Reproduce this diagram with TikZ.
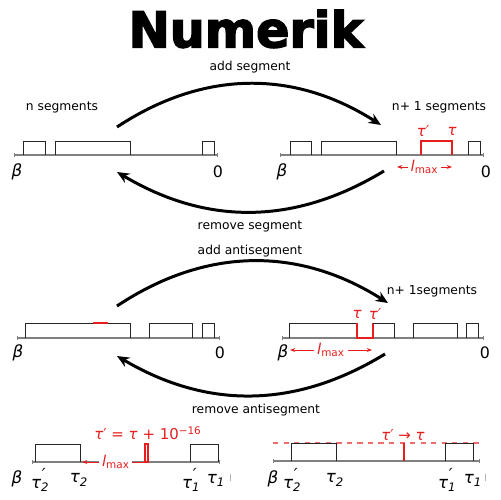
\documentclass[tikz,border=0pt]{standalone}
\usepackage{fontspec}
\setmainfont{DejaVu Sans}
\newfontfamily\titlefont[FakeBold=3]{DejaVu Sans Bold}
\usetikzlibrary{arrows.meta}
\definecolor{lred}{RGB}{232,30,30}

\begin{document}
\begin{tikzpicture}[x=0.02cm,y=-0.02cm,
  txt/.style={inner sep=0pt,font=\fontsize{7}{8}\selectfont},
  lbl/.style={inner sep=0pt,font=\fontsize{9.5}{10}\selectfont\itshape},
  rlbl/.style={inner sep=0pt,text=lred,font=\fontsize{8.5}{9}\selectfont\itshape},
  move/.style={line width=1.7pt,-{Stealth[length=7pt,width=6pt]}},
  axis/.style={draw=gray,line width=0.6pt,{Bar[width=2.5pt]}-{Bar[width=2.5pt]}},
  seg/.style={draw=black!85,line width=0.5pt},
  aseg/.style={draw=lred,line width=0.7pt},
  lmax/.style={draw=lred,line width=0.5pt}]
\useasboundingbox (0,0) rectangle (500,500);

\node[inner sep=0pt,font=\fontsize{28}{30}\titlefont] (title) at (246,29) {Numerik};

% add / remove segment
\node[txt] (addseg) at (250,67) {add segment};
\node[txt] (nseg) at (62,107) {n segments};
\node[txt] (n1seg) at (439,107) {n+ 1 segments};
\coordinate (a1) at (117,127);
\coordinate (b1) at (381,125);
\draw[move] (a1) to[bend left=33] (b1);
\coordinate (a2) at (384,171);
\coordinate (b2) at (117,172);
\draw[move] (a2) to[bend left=31] (b2);
\node[txt] (remseg) at (250,226) {remove segment};

\draw[axis] (14,155) -- (218,155);
\draw[seg] (23,155) |- (45,141) -- (45,155);
\draw[seg] (55,155) |- (130,141) -- (130,155);
\draw[seg] (202,155) |- (214,141) -- (214,155);
\node[lbl] (beta1) at (17,172) {β};
\node[lbl,font=\fontsize{9}{9}\selectfont] (zero1) at (218,172) {0};

\draw[axis] (280,155) -- (484,155);
\draw[seg] (290,155) |- (311,141) -- (311,155);
\draw[seg] (321,155) |- (396,141) -- (396,155);
\draw[aseg] (421,155) |- (452,141) -- (452,155);
\draw[seg] (468,155) |- (480,141) -- (480,155);
\node[rlbl] (tp1) at (423,131) {τ′};
\node[rlbl] (t1) at (452,131) {τ};
\draw[lmax,{Stealth[length=3pt]}-{Stealth[length=3pt]}] (397,167) -- (452,167)
  node[midway,fill=white,inner sep=1.5pt,text=lred,font=\fontsize{8.5}{9}\selectfont] (lm1) {\textit{l}\textsubscript{max}};
\node[lbl] (beta2) at (282,172) {β};
\node[lbl,font=\fontsize{9}{9}\selectfont] (zero2) at (486,172) {0};

% add / remove antisegment
\node[txt] (addanti) at (250,251) {add antisegment};
\node[txt] (n1seg2) at (432,291) {n+ 1segments};
\coordinate (a3) at (117,306);
\coordinate (b3) at (388,303);
\draw[move] (a3) to[bend left=33] (b3);
\coordinate (a4) at (385,354);
\coordinate (b4) at (117,356);
\draw[move] (a4) to[bend left=31] (b4);
\node[txt] (remanti) at (256,410) {remove antisegment};

\draw[axis] (17,338) -- (220,338);
\draw[seg] (25,338) |- (130,323) -- (130,338);
\draw[aseg] (93,323) -- (108,323);
\draw[seg] (149,338) |- (192,323) -- (192,338);
\draw[seg] (202,338) |- (214,323) -- (214,338);
\node[lbl] (beta3) at (18,353) {β};
\node[lbl,font=\fontsize{9}{9}\selectfont] (zero3) at (220,353) {0};

\draw[axis] (282,338) -- (484,338);
\draw[seg] (289,338) |- (357,323);
\draw[aseg] (357,323) |- (373,338) -- (373,323);
\draw[seg] (373,323) -| (394,338);
\draw[seg] (413,338) |- (457,323) -- (457,338);
\draw[seg] (466,338) |- (478,323) -- (478,338);
\node[rlbl] (t2) at (357,314) {τ};
\node[rlbl] (tp2) at (375,314) {τ′};
\draw[lmax,{Stealth[length=3pt]}-{Stealth[length=3pt]}] (290,350) -- (372,350)
  node[midway,fill=white,inner sep=1.5pt,text=lred,font=\fontsize{8.5}{9}\selectfont] (lm2) {\textit{l}\textsubscript{max}};
\node[lbl] (beta4) at (283,353) {β};
\node[lbl,font=\fontsize{9}{9}\selectfont] (zero4) at (485,353) {0};

% bottom row
\draw[axis] (32,462) -- (220,462);
\draw[seg] (35,462) |- (80,444) -- (80,462);
\draw[seg] (190,462) |- (218,444) -- (218,462);
\draw[aseg,line width=0.6pt] (145,462) rectangle (148,444);
\draw[lmax,-{Stealth[length=3pt]}] (146,462) -- (82,462)
  node[pos=0.47,fill=white,inner sep=1.5pt,text=lred,font=\fontsize{8.5}{9}\selectfont] (lm3) {\textit{l}\textsubscript{max}};
\node[rlbl,font=\fontsize{8.5}{9}\selectfont] (eq) at (148,433) {\textit{τ}′ = \textit{τ} + 10\textsuperscript{−16}};
\node[lbl] (beta5) at (17,479) {β};
\node[lbl] (t2p) at (40,480) {τ\textsubscript{2}\kern-0.45em\raisebox{0.9ex}{′}\kern0.2em};
\node[lbl] (t2b) at (79,480) {τ\textsubscript{2}};
\node[lbl] (t1p) at (191,480) {τ\textsubscript{1}\kern-0.45em\raisebox{0.9ex}{′}\kern0.2em};
\node[lbl] (t1b) at (216,480) {τ\textsubscript{1}};
\draw[gray!60,line width=0.4pt] (230,474) -- (230,481);

\draw[axis] (273,461) -- (480,461);
\draw[lred!65,dashed,line width=0.8pt] (273,443) -- (480,443);
\draw[seg] (291,461) |- (336,443) -- (336,461);
\draw[seg] (445,461) |- (473,443) -- (473,461);
\draw[aseg] (404,443) -- (404,461);
\node[rlbl,font=\fontsize{8.5}{9}\selectfont] (lim) at (403,435) {\textit{τ}′ → \textit{τ}};
\node[lbl] (beta6) at (273,479) {β};
\node[lbl] (t2p2) at (292,480) {τ\textsubscript{2}\kern-0.45em\raisebox{0.9ex}{′}\kern0.2em};
\node[lbl] (t2b2) at (335,480) {τ\textsubscript{2}};
\node[lbl] (t1p2) at (447,480) {τ\textsubscript{1}\kern-0.45em\raisebox{0.9ex}{′}\kern0.2em};
\node[lbl] (t1b2) at (473,480) {τ\textsubscript{1}};
\draw[gray!60,line width=0.4pt] (485,474) -- (485,481);
\end{tikzpicture}
\end{document}
